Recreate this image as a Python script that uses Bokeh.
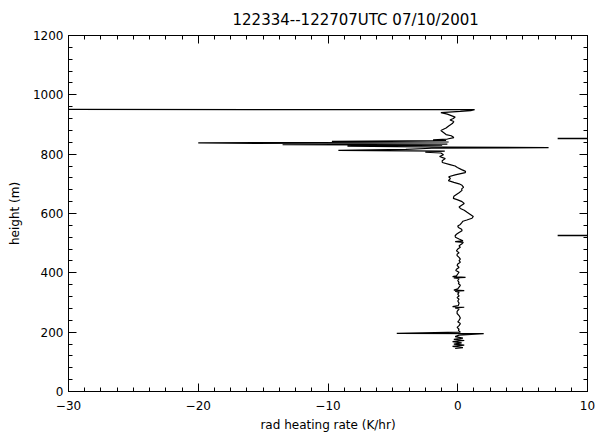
from bokeh.plotting import figure
from bokeh.models import (Range1d, LinearAxis, SingleIntervalTicker, Arrow,
                          ColumnDataSource, CustomJSTickFormatter)
from bokeh.embed import file_html
from bokeh.resources import INLINE

title_text = "122334--122707UTC 07/10/2001"
x_label = "rad heating rate (K/hr)"
y_label = "height (m)"

# heating-rate profile (height in m, rate in K/hr)
prof_h = [951, 950, 947, 944, 940, 935, 930, 925, 920, 915, 910, 903, 895, 888, 880, 873,
          866, 862, 856, 851, 848, 846, 843, 841, 838, 836, 834, 832, 830, 827, 824, 822,
          820, 816, 813, 810, 807, 804, 798, 792, 785, 778, 772, 765, 760, 755, 748, 742,
          738, 730, 724, 718, 711, 705, 700, 695, 688, 683, 678, 670, 664, 658, 651, 646,
          640, 634, 628, 622, 617, 611, 604, 596, 590, 584, 578, 574, 570, 563, 558, 553,
          547, 542, 536, 530, 525, 520, 514, 508, 505, 503, 497, 491, 486, 480, 474, 468,
          463, 458, 452, 446, 441, 436, 430, 425, 418, 412, 408, 402, 396, 390, 387, 385,
          383, 380, 374, 368, 364, 358, 352, 346, 342, 340, 338, 334, 328, 322, 317, 311,
          305, 298, 290, 286, 284, 282, 278, 270, 263, 256, 248, 240, 235, 229, 222, 216,
          210, 206, 200, 196, 195, 190, 185, 180, 176, 172, 168, 164, 160, 156, 152, 148, 145]
prof_x = [-35.0, 1.3, 1.0, 0.2, -1.3, -0.8, -0.5, -0.2, -0.34, -0.6, -0.3, -0.42, -0.7, -0.9, -1.3, -1.1,
          -0.9, -0.5, -0.3, -0.8, -1.9, -0.9, -9.7, -0.7, -20.0, -13.8, -0.8, -13.5, -1.2, -8.5, -0.9, 7.0,
          -2.0, -4.0, -9.2, -1.0, -2.5, -1.3, -1.1, -1.4, -0.96, -1.2, -1.19, -0.6, -0.2, -0.03, 0.3, 0.6,
          0.58, -0.2, -0.7, -0.57, -0.72, -0.3, 0.1, 0.33, 0.45, 0.3, 0.33, 0.1, -0.1, -0.3, -0.34, 0.0,
          0.33, 0.5, 0.3, 0.1, 0.2, 0.5, 0.72, 1.0, 1.2, 1.1, 0.7, 0.4, 0.33, 0.2, 0.0, 0.05,
          0.3, 0.33, 0.1, -0.1, -0.2, -0.18, 0.1, 0.4, -0.2, 0.43, 0.3, 0.1, 0.2, 0.0, -0.1, 0.1,
          -0.05, -0.05, 0.1, 0.2, 0.1, 0.2, 0.0, -0.05, 0.1, -0.1, -0.15, 0.1, 0.0, -0.1, -0.4, 0.6,
          -0.3, 0.1, 0.0, 0.1, 0.05, 0.2, 0.1, 0.0, -0.3, 0.5, -0.2, 0.1, 0.0, 0.1, -0.05, 0.1,
          0.0, 0.1, 0.05, -0.4, 0.5, -0.2, 0.1, -0.05, -0.05, 0.1, 0.2, 0.1, 0.0, 0.2, 0.1, -0.05,
          0.1, 0.05, 0.2, -4.7, 2.0, 0.1, -0.2, 0.4, -0.3, 0.5, -0.4, 0.3, -0.3, 0.5, -0.4, 0.4, -0.2]

# stray segments from the neighbouring panel at the right edge
side_h = [853, 526]
side_x0 = [7.7, 7.7]
side_x1 = [12.5, 12.5]

FONT = "DejaVu Sans"

p = figure(frame_width=519, frame_height=356, x_range=Range1d(-30, 10), y_range=Range1d(0, 1200),
           output_backend="svg", toolbar_location=None, title=title_text,
           min_border_left=68, min_border_right=10, min_border_top=35, min_border_bottom=37)
p.title.align = "left"
p.title.text_font = FONT
p.title.text_font_size = "15px"
p.title.text_font_style = "normal"
p.title.text_color = "black"
p.title.offset = 164
p.title.standoff = 14
p.xgrid.visible = False
p.ygrid.visible = False
p.outline_line_color = "black"
p.outline_line_width = 1

xt = SingleIntervalTicker(interval=10, num_minor_ticks=8)
yt = SingleIntervalTicker(interval=200, num_minor_ticks=5)

bottom = p.xaxis[0]
left = p.yaxis[0]
bottom.ticker = xt
left.ticker = yt
bottom.axis_label = x_label
left.axis_label = y_label

blank = CustomJSTickFormatter(code="return '';")
top = LinearAxis(ticker=xt, formatter=blank, major_label_standoff=0)
right = LinearAxis(ticker=yt, formatter=blank, major_label_standoff=0)
p.add_layout(top, "above")
p.add_layout(right, "right")

for ax in [bottom, left, top, right]:
    ax.major_tick_in = 8
    ax.major_tick_out = 0
    ax.minor_tick_in = 4
    ax.minor_tick_out = 0
    ax.axis_line_color = "black"
    ax.major_tick_line_color = "black"
    ax.minor_tick_line_color = "black"
    ax.major_label_text_font = FONT
    ax.major_label_text_font_size = "12px"
    ax.major_label_text_color = "black"
    ax.axis_label_text_font = FONT
    ax.axis_label_text_font_size = "12px"
    ax.axis_label_text_font_style = "normal"
    ax.axis_label_text_color = "black"

bottom.major_label_standoff = 9
left.major_label_standoff = 5
bottom.axis_label_standoff = 5
left.axis_label_standoff = 8

p.line(prof_x, prof_h, line_color="black", line_width=1.2)

src = ColumnDataSource(dict(x0=side_x0, x1=side_x1, y=side_h))
p.add_layout(Arrow(end=None, x_start="x0", y_start="y", x_end="x1", y_end="y",
                   source=src, line_color="black", line_width=1.5))

open("out.html", "w").write(file_html(p, INLINE))
